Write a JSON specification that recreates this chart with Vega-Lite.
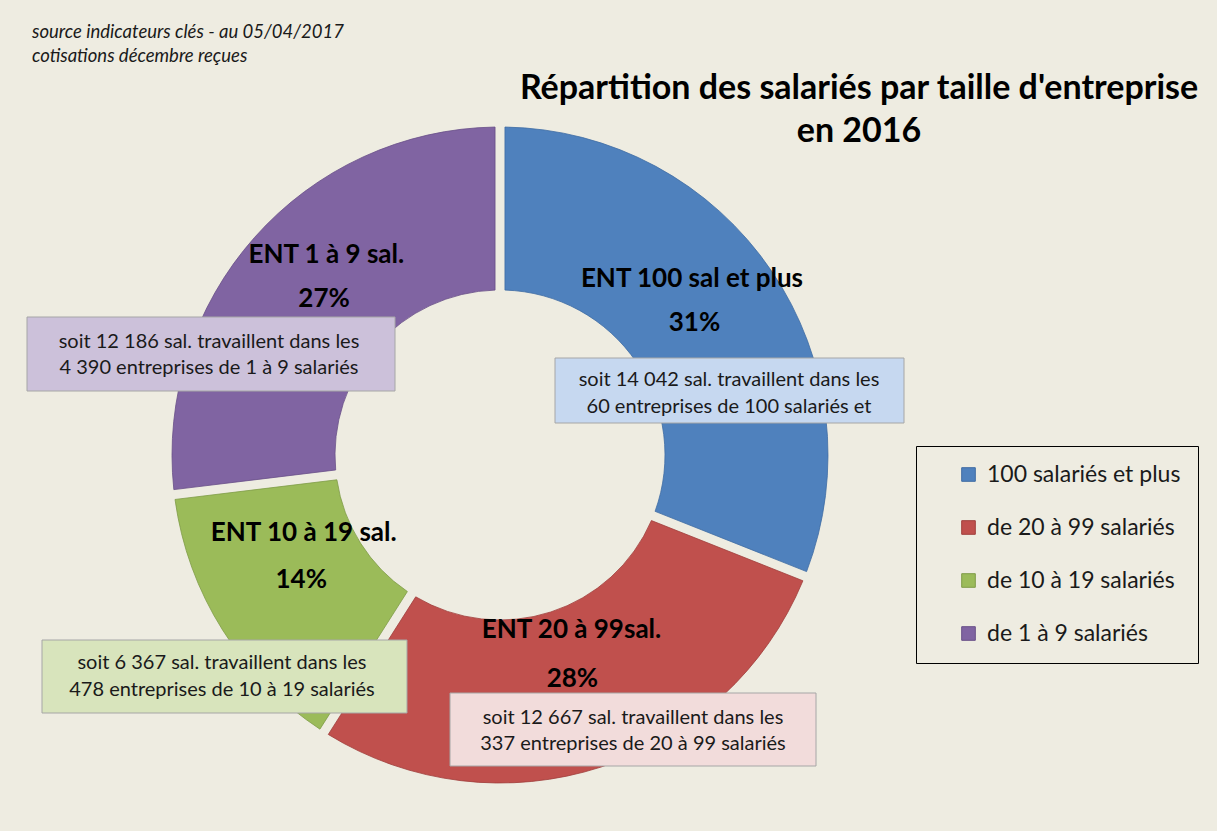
{
  "$schema": "https://vega.github.io/schema/vega-lite/v6.json",
  "width": 980,
  "height": 650,
  "autosize": {"type": "none"},
  "padding": {"left": 10, "top": 130, "right": 227, "bottom": 51},
  "background": "#EEECE1",
  "config": {
    "view": {"stroke": null},
    "font": "Lato",
    "legend": {
      "orient": "none",
      "legendX": 906,
      "legendY": 316,
      "strokeColor": "#000000",
      "strokeWidth": 1,
      "padding": 17,
      "symbolOffset": 24,
      "symbolType": "square",
      "symbolSize": 185,
      "symbolStrokeWidth": 1,
      "labelOffset": 7,
      "labelFontSize": 23,
      "labelFont": "Lato",
      "labelColor": "#1A1A1A",
      "rowPadding": 29,
      "labelLimit": 400
    }
  },
  "title": {
    "text": ["Répartition des salariés par taille d'entreprise", "en 2016"],
    "anchor": "middle",
    "dx": 359,
    "dy": 126,
    "fontSize": 34,
    "font": "Lato",
    "fontWeight": "bold",
    "color": "#000000",
    "lineHeight": 43,
    "offset": 0
  },
  "data": {
    "values": [
      {"categorie": "100 salariés et plus", "ordre": 1, "salaries": 14042, "entreprises": 60, "nom": "ENT 100 sal et plus", "pct": "31%", "note": "soit 14 042 sal. travaillent dans les\n60  entreprises de 100 salariés et"},
      {"categorie": "de 20 à 99 salariés", "ordre": 2, "salaries": 12667, "entreprises": 337, "nom": "ENT 20 à 99sal.", "pct": "28%", "note": "soit 12  667 sal. travaillent dans les\n337 entreprises de 20 à 99 salariés"},
      {"categorie": "de 10 à 19 salariés", "ordre": 3, "salaries": 6367, "entreprises": 478, "nom": "ENT 10 à 19 sal.", "pct": "14%", "note": "soit 6 367 sal. travaillent dans les\n478 entreprises de 10 à 19 salariés"},
      {"categorie": "de 1 à 9 salariés", "ordre": 4, "salaries": 12186, "entreprises": 4390, "nom": "ENT 1 à 9 sal.", "pct": "27%", "note": "soit 12 186 sal. travaillent dans les\n4 390 entreprises de 1 à 9 salariés"}
    ]
  },
  "layer": [
    {
      "mark": {"type": "arc", "radius": 328, "radius2": 165, "padAngle": 0.027, "strokeWidth": 0.8},
      "encoding": {
        "theta": {"field": "salaries", "type": "quantitative", "stack": true},
        "order": {"field": "ordre", "type": "quantitative"},
        "color": {
          "field": "categorie", "type": "nominal", "title": null,
          "scale": {"domain": ["100 salariés et plus", "de 20 à 99 salariés", "de 10 à 19 salariés", "de 1 à 9 salariés"], "range": ["#4F81BD", "#C0504D", "#9BBB59", "#8064A2"]}
        },
        "stroke": {
          "field": "categorie", "type": "nominal", "title": null,
          "scale": {"domain": ["100 salariés et plus", "de 20 à 99 salariés", "de 10 à 19 salariés", "de 1 à 9 salariés"], "range": ["#3F6CA3", "#A03F3C", "#7F9C47", "#684F88"]}
        }
      }
    },
    {
      "transform": [{"filter": "datum.ordre == 1"}],
      "layer": [
        {"mark": {"type": "rect", "x": 545, "x2": 894, "y": 228, "y2": 293, "fill": "#C6D8F0", "stroke": "#A6A6A6", "strokeWidth": 1}, "encoding": {}},
        {"mark": {"type": "text", "x": 719, "y": 250, "fontSize": 20, "font": "Lato", "lineHeight": 27, "lineBreak": "\n", "baseline": "middle", "color": "#1A1A1A"}, "encoding": {"text": {"field": "note", "type": "nominal"}}}
      ]
    },
    {
      "transform": [{"filter": "datum.ordre == 2"}],
      "layer": [
        {"mark": {"type": "rect", "x": 440, "x2": 806, "y": 563, "y2": 636, "fill": "#F2DCDB", "stroke": "#A6A6A6", "strokeWidth": 1}, "encoding": {}},
        {"mark": {"type": "text", "x": 623, "y": 588, "fontSize": 20, "font": "Lato", "lineHeight": 26, "lineBreak": "\n", "baseline": "middle", "color": "#1A1A1A"}, "encoding": {"text": {"field": "note", "type": "nominal"}}}
      ]
    },
    {
      "transform": [{"filter": "datum.ordre == 3"}],
      "layer": [
        {"mark": {"type": "rect", "x": 32, "x2": 397, "y": 510, "y2": 583, "fill": "#D8E4BC", "stroke": "#A6A6A6", "strokeWidth": 1}, "encoding": {}},
        {"mark": {"type": "text", "x": 212, "y": 533, "fontSize": 20, "font": "Lato", "lineHeight": 27, "lineBreak": "\n", "baseline": "middle", "color": "#1A1A1A"}, "encoding": {"text": {"field": "note", "type": "nominal"}}}
      ]
    },
    {
      "transform": [{"filter": "datum.ordre == 4"}],
      "layer": [
        {"mark": {"type": "rect", "x": 17, "x2": 385, "y": 187, "y2": 261, "fill": "#CCC1DA", "stroke": "#A6A6A6", "strokeWidth": 1}, "encoding": {}},
        {"mark": {"type": "text", "x": 199, "y": 212, "fontSize": 20, "font": "Lato", "lineHeight": 26, "lineBreak": "\n", "baseline": "middle", "color": "#1A1A1A"}, "encoding": {"text": {"field": "note", "type": "nominal"}}}
      ]
    },
    {
      "mark": {"type": "text", "radius": 232, "dy": -46, "fontSize": 26, "fontWeight": "bold", "font": "Lato", "color": "#000000"},
      "encoding": {
        "theta": {"field": "salaries", "type": "quantitative", "stack": true},
        "order": {"field": "ordre", "type": "quantitative"},
        "text": {"field": "nom", "type": "nominal"}
      }
    },
    {
      "mark": {"type": "text", "radius": 235, "fontSize": 26, "fontWeight": "bold", "font": "Lato", "color": "#000000"},
      "encoding": {
        "theta": {"field": "salaries", "type": "quantitative", "stack": true},
        "order": {"field": "ordre", "type": "quantitative"},
        "text": {"field": "pct", "type": "nominal"}
      }
    },
    {
      "data": {"values": [{"source": "source indicateurs clés  - au 05/04/2017\ncotisations  décembre reçues"}]},
      "mark": {"type": "text", "x": 22, "y": -92, "align": "left", "baseline": "alphabetic", "fontSize": 18.5, "fontStyle": "italic", "font": "Lato", "lineHeight": 24, "lineBreak": "\n", "color": "#1A1A1A"},
      "encoding": {"text": {"field": "source", "type": "nominal"}}
    }
  ]
}
